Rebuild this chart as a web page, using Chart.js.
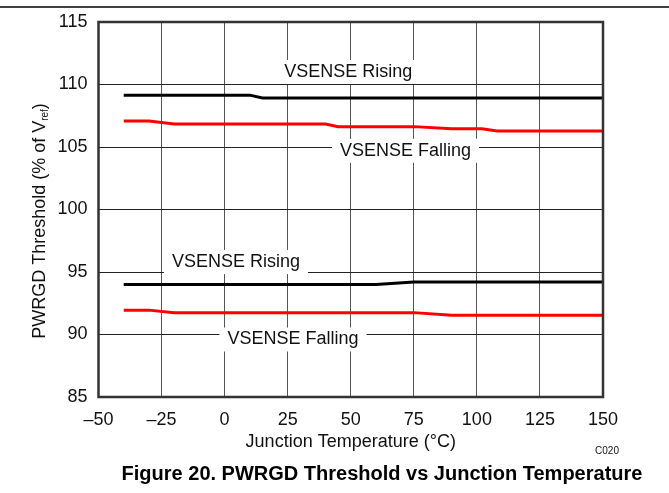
<!DOCTYPE html>
<html>
<head>
<meta charset="utf-8">
<script src="https://cdn.jsdelivr.net/npm/chart.js@4.4.0/dist/chart.umd.min.js"></script>
<style>
  html, body { margin: 0; padding: 0; background: #fff; }
  #wrap { width: 669px; height: 493px; position: relative; }
</style>
</head>
<body>
<div id="wrap"><canvas id="pwrgdChart"></canvas></div>
<script>
// values (temperature in °C, threshold in % of Vref)
const upperRiseT = [-40, 10, 15, 150];
const upperRiseV = [109.15, 109.15, 108.92, 108.92];
const upperFallT = [-40, -30, -20, 40, 45, 75, 90, 102, 108, 150];
const upperFallV = [107.08, 107.08, 106.84, 106.84, 106.63, 106.63, 106.46, 106.46, 106.28, 106.28];
const lowerRiseT = [-40, 60, 75, 150];
const lowerRiseV = [94.0, 94.0, 94.2, 94.2];
const lowerFallT = [-40, -30, -20, 75, 90, 150];
const lowerFallV = [91.95, 91.95, 91.75, 91.75, 91.55, 91.55];

const xTicks = [-50, -25, 0, 25, 50, 75, 100, 125, 150];
const yTicks = [85, 90, 95, 100, 105, 110, 115];

// curve labels: [text, temperature, threshold]
const curveLabels = [
  ['VSENSE Rising', 49, 111.0],
  ['VSENSE Falling', 71.7, 104.7],
  ['VSENSE Rising', 4.5, 95.8],
  ['VSENSE Falling', 27.1, 89.6]
];

const FONT = '"Liberation Sans", Arial, sans-serif';

function pts(t, v) {
  return t.map((x, i) => ({ x: x, y: v[i] }));
}

function line(t, v, color) {
  return {
    data: pts(t, v),
    borderColor: color,
    borderWidth: 3,
    pointRadius: 0,
    tension: 0,
    fill: false
  };
}

const extras = {
  id: 'extras',
  afterDatasetsDraw(chart) {
    const ctx = chart.ctx;
    const a = chart.chartArea;
    const xs = chart.scales.x, ys = chart.scales.y;
    ctx.save();

    // curve labels on white boxes
    ctx.font = '18px ' + FONT;
    ctx.textAlign = 'center';
    ctx.textBaseline = 'middle';
    curveLabels.forEach(l => {
      const px = xs.getPixelForValue(l[1]);
      const py = ys.getPixelForValue(l[2]);
      const w = ctx.measureText(l[0]).width;
      ctx.fillStyle = '#fff';
      ctx.fillRect(px - w / 2 - 8, py - 12, w + 16, 24);
      ctx.fillStyle = '#111';
      ctx.fillText(l[0], px, py);
    });

    // frame
    ctx.strokeStyle = '#333';
    ctx.lineWidth = 2.5;
    ctx.strokeRect(a.left, a.top, a.right - a.left, a.bottom - a.top);

    // top rule
    ctx.strokeStyle = '#000';
    ctx.lineWidth = 1.5;
    ctx.beginPath();
    ctx.moveTo(0, 7);
    ctx.lineTo(669, 7);
    ctx.stroke();

    ctx.fillStyle = '#111';
    // x title
    ctx.font = '18px ' + FONT;
    ctx.textAlign = 'center';
    ctx.fillText('Junction Temperature (°C)', (a.left + a.right) / 2, 442);

    // y title with subscript
    ctx.save();
    ctx.translate(39, 221);
    ctx.rotate(-Math.PI / 2);
    const main = 'PWRGD Threshold (% of V';
    ctx.font = '18px ' + FONT;
    const wMain = ctx.measureText(main).width;
    ctx.font = '10px ' + FONT;
    const wSub = ctx.measureText('ref').width;
    ctx.font = '18px ' + FONT;
    const wEnd = ctx.measureText(')').width;
    let sx = -(wMain + wSub + wEnd) / 2;
    ctx.textAlign = 'left';
    ctx.textBaseline = 'alphabetic';
    ctx.fillText(main, sx, 6);
    sx += wMain;
    ctx.font = '10px ' + FONT;
    ctx.fillText('ref', sx, 9);
    sx += wSub;
    ctx.font = '18px ' + FONT;
    ctx.fillText(')', sx, 6);
    ctx.restore();

    // code and caption
    ctx.font = '10px ' + FONT;
    ctx.textAlign = 'center';
    ctx.textBaseline = 'middle';
    ctx.fillText('C020', 607, 451);
    ctx.font = 'bold 20px ' + FONT;
    ctx.fillStyle = '#000';
    ctx.fillText('Figure 20. PWRGD Threshold vs Junction Temperature', 382, 474);

    ctx.restore();
  }
};

new Chart(document.getElementById('pwrgdChart'), {
  type: 'line',
  data: {
    datasets: [
      line(upperRiseT, upperRiseV, '#000'),
      line(upperFallT, upperFallV, '#ff0000'),
      line(lowerRiseT, lowerRiseV, '#000'),
      line(lowerFallT, lowerFallV, '#ff0000')
    ]
  },
  options: {
    responsive: true,
    maintainAspectRatio: false,
    animation: false,
    layout: { padding: { top: 22, right: 66, left: 0, bottom: 0 } },
    plugins: {
      legend: { display: false },
      tooltip: { enabled: false }
    },
    scales: {
      x: {
        type: 'linear',
        min: -50,
        max: 150,
        afterFit: s => { s.height = 96; },
        afterBuildTicks: s => { s.ticks = xTicks.map(v => ({ value: v })); },
        grid: { color: '#555', lineWidth: 1, drawTicks: false },
        border: { display: false },
        ticks: {
          padding: 12,
          color: '#111',
          font: { family: FONT, size: 18 },
          maxRotation: 0,
          callback: v => (v < 0 ? '\u2013' + Math.abs(v) : String(v))
        }
      },
      y: {
        min: 85,
        max: 115,
        afterFit: s => { s.width = 98.5; },
        afterBuildTicks: s => { s.ticks = yTicks.map(v => ({ value: v })); },
        grid: { color: '#222', lineWidth: 1, drawTicks: false },
        border: { display: false },
        ticks: {
          padding: 11,
          color: '#111',
          font: { family: FONT, size: 18 }
        }
      }
    }
  },
  plugins: [extras]
});
</script>
</body>
</html>
